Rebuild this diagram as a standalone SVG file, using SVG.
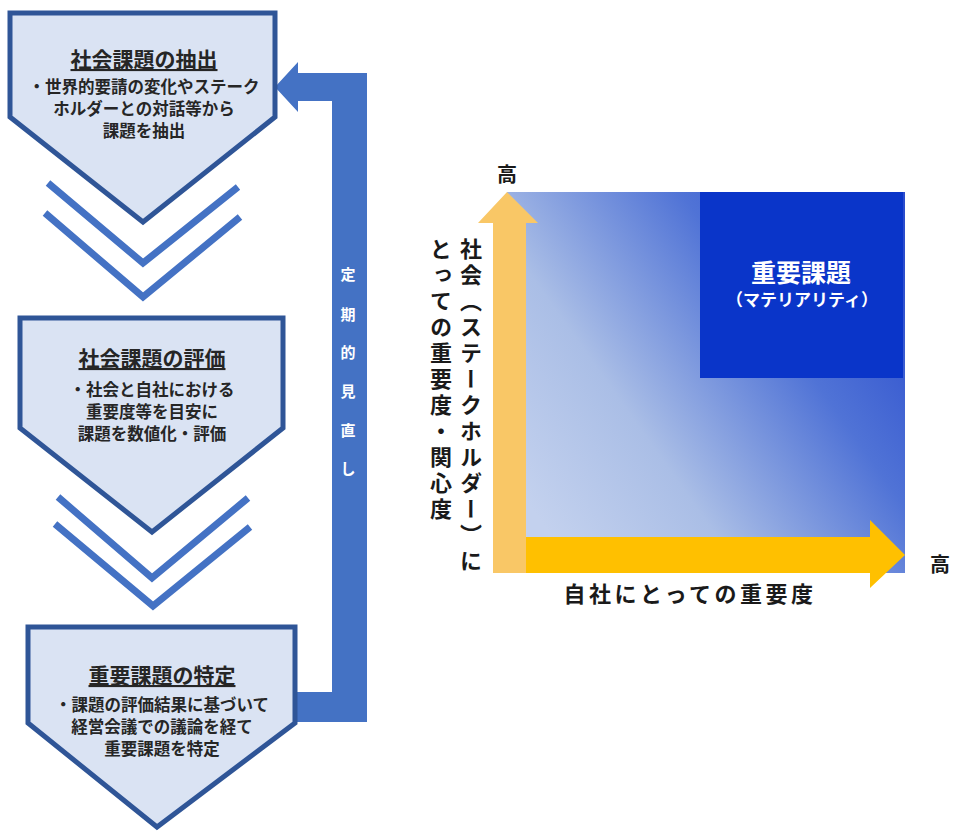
<svg xmlns="http://www.w3.org/2000/svg" width="954" height="836" viewBox="0 0 954 836">
  <style>
    .penta { fill: #DAE3F3; stroke: #2F5597; stroke-width: 5; stroke-linejoin: miter; }
    .chev { fill: none; stroke: #4472C4; stroke-width: 7; stroke-linejoin: miter; }
    .title { font-family: "Noto Sans CJK JP", "Noto Sans", sans-serif; font-weight: bold; font-size: 21px; fill: #262626; text-anchor: middle; text-decoration: underline; }
    .body { font-family: "Noto Sans CJK JP", "Noto Sans", sans-serif; font-weight: bold; font-size: 16.5px; fill: #262626; text-anchor: middle; }
    .cjk { font-family: "Noto Sans CJK JP", "Noto Sans", sans-serif; font-weight: bold; }
    .vt { writing-mode: vertical-rl; }
  </style>
  <defs>
    <linearGradient id="grad" gradientUnits="userSpaceOnUse" x1="540" y1="520" x2="905" y2="260">
      <stop offset="0" stop-color="#C3D1EE"/>
      <stop offset="0.3" stop-color="#AABEE6"/>
      <stop offset="0.68" stop-color="#5073D6"/>
      <stop offset="1" stop-color="#2A4CCD"/>
    </linearGradient>
  </defs>

  <g id="connectors">
    <g id="chevrons-1">
      <polyline class="chev" points="48,183 143,263 238,187"/>
      <polyline class="chev" points="45,213 143,297 240,217"/>
    </g>
    <g id="chevrons-2">
      <polyline class="chev" points="58,497 152,578 248,498"/>
      <polyline class="chev" points="55,524 153,606 250,527"/>
    </g>
    <g id="feedback-arrow">
      <polygon fill="#4472C4" points="298,62 275,87 298,112 298,101 332,101 332,692 297,692 297,722 367,722 367,73 298,73"/>
      <g class="cjk" fill="#FFFFFF" font-size="15" text-anchor="middle">
        <text x="348" y="280">定</text>
        <text x="348" y="320">期</text>
        <text x="348" y="358">的</text>
        <text x="348" y="397">見</text>
        <text x="348" y="436">直</text>
        <text x="348" y="474">し</text>
      </g>
    </g>
  </g>

  <g id="node-extract">
    <polygon class="penta" points="10,13 275,13 275,117 143,222 10,117"/>
    <text class="title" x="144" y="67">社会課題の抽出</text>
    <text class="body" x="144" y="93">・世界的要請の変化やステーク</text>
    <text class="body" x="144" y="115">ホルダーとの対話等から</text>
    <text class="body" x="144" y="137">課題を抽出</text>
  </g>

  <g id="node-evaluate">
    <polygon class="penta" points="20,318 283,318 283,428 152,532 20,428"/>
    <text class="title" x="152" y="366">社会課題の評価</text>
    <text class="body" x="152" y="396">・社会と自社における</text>
    <text class="body" x="152" y="418">重要度等を目安に</text>
    <text class="body" x="152" y="440">課題を数値化・評価</text>
  </g>

  <g id="node-identify">
    <polygon class="penta" points="28,627 295,627 295,723 157,827 28,723"/>
    <text class="title" x="162" y="683">重要課題の特定</text>
    <text class="body" x="162" y="711">・課題の評価結果に基づいて</text>
    <text class="body" x="162" y="733">経営会議での議論を経て</text>
    <text class="body" x="162" y="755">重要課題を特定</text>
  </g>

  <g id="materiality-chart">
    <rect x="507" y="192" width="398" height="381" fill="url(#grad)"/>
    <g id="node-materiality">
      <rect x="700" y="192" width="203" height="186" fill="#0A35C9"/>
      <text class="cjk" x="801" y="282" font-size="25" fill="#FFFFFF" text-anchor="middle">重要課題</text>
      <text class="cjk" x="802" y="306" font-size="17" fill="#FFFFFF" text-anchor="middle">（マテリアリティ）</text>
    </g>
    <polygon fill="#FFC000" points="526,537 870,537 870,520 905,555 870,588 870,573 526,573"/>
    <polygon fill="#F9C766" points="493,573 493,223 478,223 507,192 538,223 526,223 526,573"/>
    <text class="cjk" x="507" y="182" font-size="20" fill="#1A1A1A" text-anchor="middle">高</text>
    <text class="cjk" x="940" y="572" font-size="20" fill="#1A1A1A" text-anchor="middle">高</text>
    <text class="cjk" x="690" y="602" font-size="22" fill="#1A1A1A" text-anchor="middle" letter-spacing="3.5">自社にとっての重要度</text>
    <text class="cjk vt" x="471" y="238" font-size="22" fill="#1A1A1A" letter-spacing="4">社会（ステークホルダー）に</text>
    <text class="cjk vt" x="441" y="238" font-size="22" fill="#1A1A1A" letter-spacing="4">とっての重要度・関心度</text>
  </g>
</svg>
